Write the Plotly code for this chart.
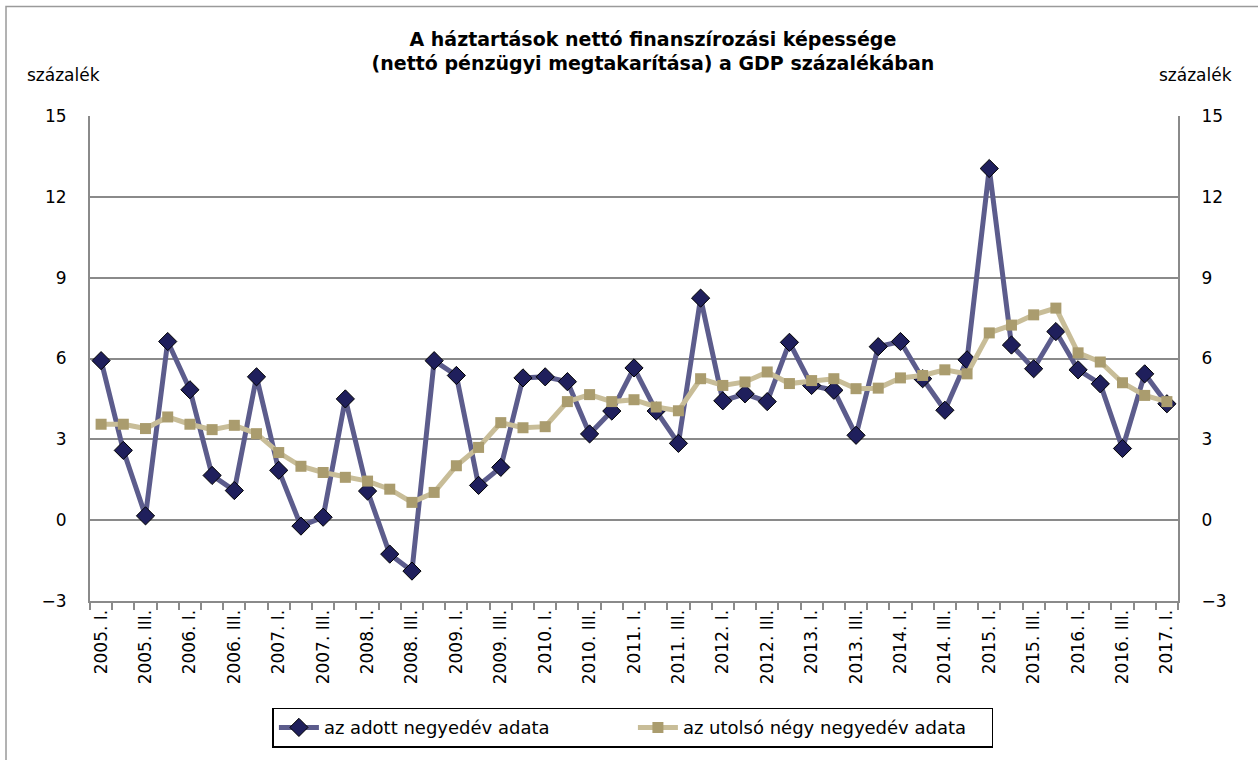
import plotly.graph_objects as go

quarters = list(range(49))  # 2005 Q1 .. 2017 Q1
tick_positions = list(range(0, 49, 2))
tick_labels = [
    "2005. I.", "2005. III.", "2006. I.", "2006. III.", "2007. I.", "2007. III.",
    "2008. I.", "2008. III.", "2009. I.", "2009. III.", "2010. I.", "2010. III.",
    "2011. I.", "2011. III.", "2012. I.", "2012. III.", "2013. I.", "2013. III.",
    "2014. I.", "2014. III.", "2015. I.", "2015. III.", "2016. I.", "2016. III.",
    "2017. I.",
]

quarterly = [
    5.92, 2.59, 0.16, 6.63, 4.84, 1.66, 1.10, 5.32, 1.85, -0.22,
    0.11, 4.50, 1.08, -1.26, -1.89, 5.92, 5.37, 1.29, 1.96, 5.28,
    5.32, 5.14, 3.20, 4.05, 5.65, 4.05, 2.85, 8.24, 4.43, 4.69,
    4.40, 6.60, 5.00, 4.82, 3.15, 6.44, 6.63, 5.25, 4.08, 5.95,
    13.05, 6.50, 5.62, 7.00, 5.58, 5.06, 2.66, 5.43, 4.32,
]
rolling4 = [
    3.56, 3.56, 3.40, 3.83, 3.56, 3.36, 3.52, 3.21, 2.51, 2.00,
    1.77, 1.59, 1.45, 1.15, 0.66, 1.03, 2.02, 2.70, 3.62, 3.43,
    3.47, 4.40, 4.66, 4.40, 4.47, 4.20, 4.06, 5.25, 5.00, 5.13,
    5.50, 5.07, 5.18, 5.25, 4.88, 4.90, 5.28, 5.37, 5.58, 5.43,
    6.95, 7.24, 7.62, 7.87, 6.21, 5.87, 5.10, 4.63, 4.40,
]

y_ticks = [-3, 0, 3, 6, 9, 12, 15]
name_q = "az adott negyedév adata"
name_r = "az utolsó négy negyedév adata"
title_text = ("<b>A háztartások nettó finanszírozási képessége</b><br>"
              "<b>(nettó pénzügyi megtakarítása) a GDP százalékában</b>")
unit = "százalék"

FONT = "DejaVu Sans, Liberation Sans, sans-serif"
GRID = "#8a8a8a"

fig = go.Figure()
fig.add_trace(go.Scatter(
    x=quarters, y=quarterly, name=name_q, mode="lines+markers",
    line=dict(color="#5c5c8c", width=5),
    marker=dict(symbol="diamond", size=14, color="#1f1f5c",
                line=dict(color="#000000", width=1)),
))
fig.add_trace(go.Scatter(
    x=quarters, y=rolling4, name=name_r, mode="lines+markers",
    line=dict(color="#c8bd98", width=5),
    marker=dict(symbol="square", size=11, color="#aa9c6e",
                line=dict(width=0)),
))
fig.add_trace(go.Scatter(
    x=quarters, y=rolling4, yaxis="y2", mode="lines",
    line=dict(width=0), hoverinfo="skip", showlegend=False, opacity=0,
))

fig.update_layout(
    width=1258, height=760,
    margin=dict(l=90, r=80, t=116, b=157),
    paper_bgcolor="white", plot_bgcolor="white",
    font=dict(family=FONT, size=17, color="#000000"),
    showlegend=True,
    title=dict(text=title_text, x=0.519, xanchor="center", xref="container",
               y=0.940, yanchor="middle",
               font=dict(family=FONT, size=19, color="#000000")),
    xaxis=dict(
        range=[-0.5, 48.5], tickmode="array", tickvals=tick_positions,
        ticktext=tick_labels, tickangle=-90, ticks="", showgrid=False,
        zeroline=False, showline=True, linecolor=GRID, linewidth=2,
        tickfont=dict(family=FONT, size=17),
        minor=dict(tick0=-0.5, dtick=1, ticks="outside", ticklen=7,
                   tickcolor=GRID, tickwidth=1.5, showgrid=False),
    ),
    yaxis=dict(
        range=[-3, 15], tickmode="array", tickvals=y_ticks,
        showgrid=True, gridcolor=GRID, gridwidth=1.5, zeroline=False,
        showline=True, linecolor=GRID, linewidth=2,
        ticks="outside", ticklen=18, tickcolor="rgba(0,0,0,0)",
        tickfont=dict(family=FONT, size=17),
    ),
    yaxis2=dict(
        range=[-3, 15], tickmode="array", tickvals=y_ticks,
        overlaying="y", side="right", anchor="x",
        showgrid=False, zeroline=False,
        showline=True, linecolor=GRID, linewidth=2,
        ticks="outside", ticklen=18, tickcolor="rgba(0,0,0,0)",
        tickfont=dict(family=FONT, size=17),
    ),
    legend=dict(
        orientation="h", x=0.499, xanchor="center", y=-0.22, yanchor="top",
        bordercolor="#000000", borderwidth=1.5, bgcolor="white",
        font=dict(family=FONT, size=18), itemwidth=40, entrywidth=304,
    ),
    annotations=[
        dict(text=unit, xref="paper", yref="paper", x=-0.024, y=1.084,
             xanchor="center", yanchor="middle", showarrow=False,
             font=dict(family=FONT, size=17)),
        dict(text=unit, xref="paper", yref="paper", x=1.0165, y=1.084,
             xanchor="center", yanchor="middle", showarrow=False,
             font=dict(family=FONT, size=17)),
    ],
    shapes=[
        dict(type="rect", xref="paper", yref="paper",
             x0=-0.0772, x1=1.08, y0=-0.34, y1=1.2259,
             line=dict(color="#9a9a9a", width=1.5), layer="below"),
    ],
)

fig.write_html("out.html", config={"displayModeBar": False},
               post_script="document.body.style.margin='0';")
